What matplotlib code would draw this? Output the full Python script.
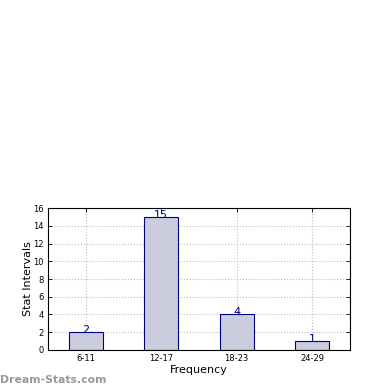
import matplotlib
matplotlib.use("Agg")
import matplotlib.pyplot as plt

categories = ["6-11", "12-17", "18-23", "24-29"]
counts = [2, 15, 4, 1]
yticks = [0, 2, 4, 6, 8, 10, 12, 14, 16]

fig = plt.figure(figsize=(3.9, 3.9), dpi=100)
ax = fig.add_axes([0.123, 0.1026, 0.774, 0.364])

pos = list(range(len(categories)))
ax.bar(pos, counts, width=0.45, color="#ccccdf", edgecolor="navy", linewidth=0.8, zorder=2)
for x, c in zip(pos, counts):
    ax.text(x, c + 0.25, str(c), ha="center", va="center", color="navy", fontsize=8, zorder=3)

ax.set_xlim(-0.5, len(categories) - 0.5)
ax.set_ylim(0, 16)
ax.set_xticks(pos)
ax.set_xticklabels(categories, fontsize=6)
ax.set_yticks(yticks)
ax.set_yticklabels([str(t) for t in yticks], fontsize=6)
ax.tick_params(direction="in", length=3, width=0.6, top=True, right=True, pad=3)
ax.grid(True, linestyle=":", color="#bbbbbb", linewidth=0.8, zorder=0)
ax.set_axisbelow(True)
for s in ax.spines.values():
    s.set_linewidth(0.8)

ax.set_xlabel("Frequency", fontsize=8, labelpad=1)
ax.set_ylabel("Stat Intervals", fontsize=8, labelpad=0)

fig.text(0.0, 0.025, "Dream-Stats.com", color="#999999", fontsize=7.8, fontweight="bold", ha="left", va="center")

fig.savefig("out.png", dpi=100)
